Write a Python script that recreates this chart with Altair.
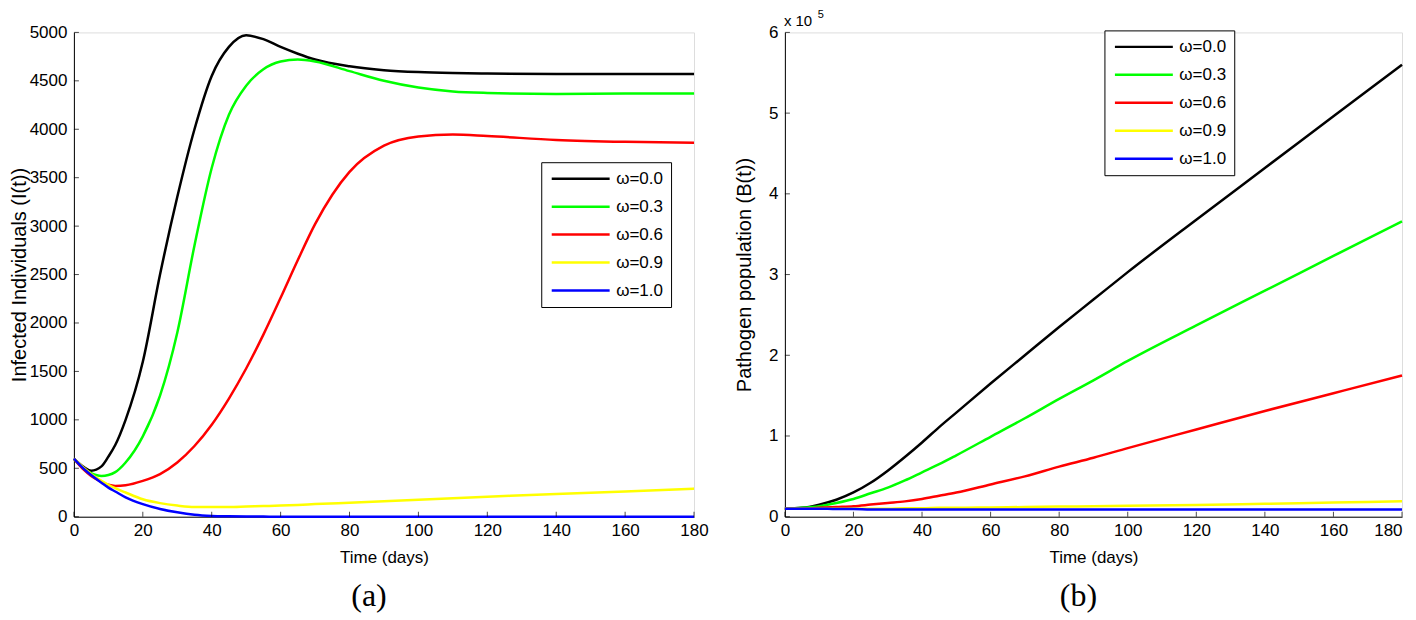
import altair as alt
import pandas as pd

# ---------------- data ----------------
omega_labels = ["ω=0.0", "ω=0.3", "ω=0.6", "ω=0.9", "ω=1.0"]
line_colors = ["#000000", "#00ff00", "#ff0000", "#ffff00", "#0000ff"]

# Panel (a): infected individuals I(t)
t_I = [0, 3, 5, 8, 10, 12, 15, 20, 25, 30, 35, 40, 45, 50, 55, 60, 65, 70, 80, 90, 100, 110, 120, 140, 160, 180]
I_w00 = [600, 510, 475, 520, 620, 740, 1000, 1600, 2500, 3300, 4000, 4550, 4850, 4970, 4930, 4850, 4780, 4720, 4650, 4610, 4590, 4580, 4575, 4570, 4570, 4570]
I_w03 = [600, 490, 450, 420, 430, 460, 560, 830, 1250, 1900, 2800, 3600, 4150, 4450, 4620, 4700, 4720, 4700, 4600, 4500, 4430, 4390, 4375, 4365, 4370, 4370]
I_w06 = [600, 480, 420, 360, 330, 318, 325, 370, 440, 560, 730, 950, 1220, 1530, 1880, 2260, 2650, 3020, 3560, 3830, 3925, 3945, 3930, 3890, 3870, 3860]
I_w09 = [600, 500, 440, 370, 330, 295, 250, 180, 140, 115, 100, 100, 100, 105, 110, 115, 122, 130, 145, 160, 175, 190, 205, 235, 260, 290]
I_w10 = [600, 490, 430, 350, 300, 260, 200, 130, 80, 45, 20, 8, 4, 2, 1, 0, 0, 0, 0, 0, 0, 0, 0, 0, 0, 0]

# Panel (b): pathogen population B(t)
t_B = [0, 5, 10, 15, 20, 25, 30, 35, 40, 45, 50, 60, 70, 80, 90, 100, 120, 140, 160, 180]
B_w00 = [10000, 11000, 15000, 21000, 30000, 42000, 57000, 74000, 92000, 111000, 129000, 165000, 200000, 235000, 269000, 303000, 368000, 432000, 496000, 560000]
B_w03 = [10000, 11000, 13000, 17000, 22000, 29000, 36000, 45000, 55000, 65000, 76000, 99000, 122000, 146000, 169000, 193000, 237000, 280000, 323000, 366000]
B_w06 = [10000, 10000, 11000, 12000, 13000, 15000, 17000, 19000, 22000, 26000, 30000, 40000, 50000, 62000, 73000, 85000, 108000, 131000, 153000, 175000]
B_w09 = [10000, 10000, 10000, 10000, 10000, 10000, 10000, 10500, 10500, 11000, 11000, 11500, 12000, 12500, 13000, 13500, 14500, 16000, 17500, 19000]
B_w10 = [10000, 10000, 10000, 9500, 9500, 9000, 9000, 9000, 9000, 9000, 9000, 9000, 9000, 9000, 9000, 9000, 9000, 9000, 9000, 9000]

x_ticks = [0, 20, 40, 60, 80, 100, 120, 140, 160, 180]
I_ticks = [0, 500, 1000, 1500, 2000, 2500, 3000, 3500, 4000, 4500, 5000]
B_ticks = [0, 100000, 200000, 300000, 400000, 500000, 600000]


def long_df(t, series):
    rows = []
    for lab, vals in zip(omega_labels, series):
        for tt, v in zip(t, vals):
            rows.append({"t": tt, "v": v, "w": lab})
    return pd.DataFrame(rows)


df_I = long_df(t_I, [I_w00, I_w03, I_w06, I_w09, I_w10])
df_B = long_df(t_B, [B_w00, B_w03, B_w06, B_w09, B_w10])

SANS = "Liberation Sans"
W_A, W_B, H = 621, 618, 485


def panel(df, W, ymax, yticks, ytitle, y_title_pad, label_expr, lx, ly, caption,
          last_right=False, extra=None):
    xscale = alt.Scale(domain=[0, 180], nice=False, zero=False)
    yscale = alt.Scale(domain=[0, ymax], nice=False, zero=True)
    yaxis_kw = dict(values=yticks, title=ytitle, ticks=False, grid=False,
                    domainColor="black", domainWidth=1, labelPadding=7,
                    labelFontSize=17, labelFont=SANS, labelColor="black", format="d",
                    titleFont=SANS, titleFontSize=20, titleFontWeight="normal",
                    titleColor="black", titlePadding=y_title_pad)
    if label_expr:
        yaxis_kw["labelExpr"] = label_expr
    xaxis_kw = dict(values=x_ticks, title="Time (days)", ticks=False, grid=False,
                    domainColor="black", domainWidth=1, labelPadding=6,
                    labelFontSize=17, labelFont=SANS, labelColor="black",
                    labelFlush=False, titleFont=SANS, titleFontSize=17,
                    titleFontWeight="normal", titleColor="black", titlePadding=11)
    if last_right:
        xaxis_kw["labelAlign"] = {"condition": {"test": "datum.value >= 180", "value": "right"},
                                  "value": "center"}
    xaxis = alt.Axis(**xaxis_kw)
    yaxis = alt.Axis(**yaxis_kw)
    lines = alt.Chart(df).mark_line(strokeWidth=2.5, interpolate="monotone").encode(
        x=alt.X("t:Q", scale=xscale, axis=xaxis),
        y=alt.Y("v:Q", scale=yscale, axis=yaxis),
        color=alt.Color("w:N", scale=alt.Scale(domain=omega_labels, range=line_colors),
                        legend=alt.Legend(orient="none", legendX=lx, legendY=ly, title=None,
                                          strokeColor="black", fillColor="white", padding=8,
                                          cornerRadius=0, symbolType="M-1.333,0H8.333",
                                          symbolSize=144, symbolStrokeWidth=2.5, symbolOffset=2,
                                          labelOffset=48, rowPadding=10, labelFontSize=17,
                                          labelFont=SANS, labelColor="black")),
    )
    # inward-pointing ticks (MATLAB style), placed with the same scales
    xt = alt.Chart(pd.DataFrame({"t": x_ticks})).mark_tick(
        orient="vertical", size=5, thickness=1, color="black", yOffset=-2.5
    ).encode(x=alt.X("t:Q", scale=xscale, axis=xaxis), y=alt.value(H))
    yt = alt.Chart(pd.DataFrame({"v": yticks})).mark_tick(
        orient="horizontal", size=5, thickness=1, color="black", xOffset=2.5
    ).encode(y=alt.Y("v:Q", scale=yscale, axis=yaxis), x=alt.value(0))
    layers = [lines, xt, yt]
    if extra:
        layers += extra
    return alt.layer(*layers).properties(
        width=W, height=H,
        title=alt.TitleParams(caption, orient="bottom", anchor="middle", frame="group",
                              font="Liberation Serif", fontSize=32, fontWeight="normal",
                              color="black", offset=15, dx=-15),
    )


mult_txt = alt.Chart(pd.DataFrame({"s": ["x 10"]})).mark_text(
    align="left", baseline="alphabetic", fontSize=15, font=SANS, color="black"
).encode(text="s:N", x=alt.value(-1), y=alt.value(-6))
exp_txt = alt.Chart(pd.DataFrame({"s": ["5"]})).mark_text(
    align="left", baseline="alphabetic", fontSize=11, font=SANS, color="black"
).encode(text="s:N", x=alt.value(33), y=alt.value(-14))

left = panel(df_I, W_A, 5000, I_ticks, "Infected Individuals (I(t))", 0, None, 468, 130, "(a)")
right = panel(df_B, W_B, 600000, B_ticks, "Pathogen population (B(t))", 14,
              "datum.value / 100000", 320, -2, "(b)", last_right=True,
              extra=[mult_txt, exp_txt])

chart = alt.hconcat(left, right, spacing=91, bounds="flush").resolve_scale(
    color="independent").resolve_legend(color="independent").properties(
    padding={"left": 0, "top": 0, "right": 0, "bottom": 0}
).configure_view(stroke=None).configure(background="white")

chart.save("out.html", embed_options={"renderer": "svg", "actions": False})
